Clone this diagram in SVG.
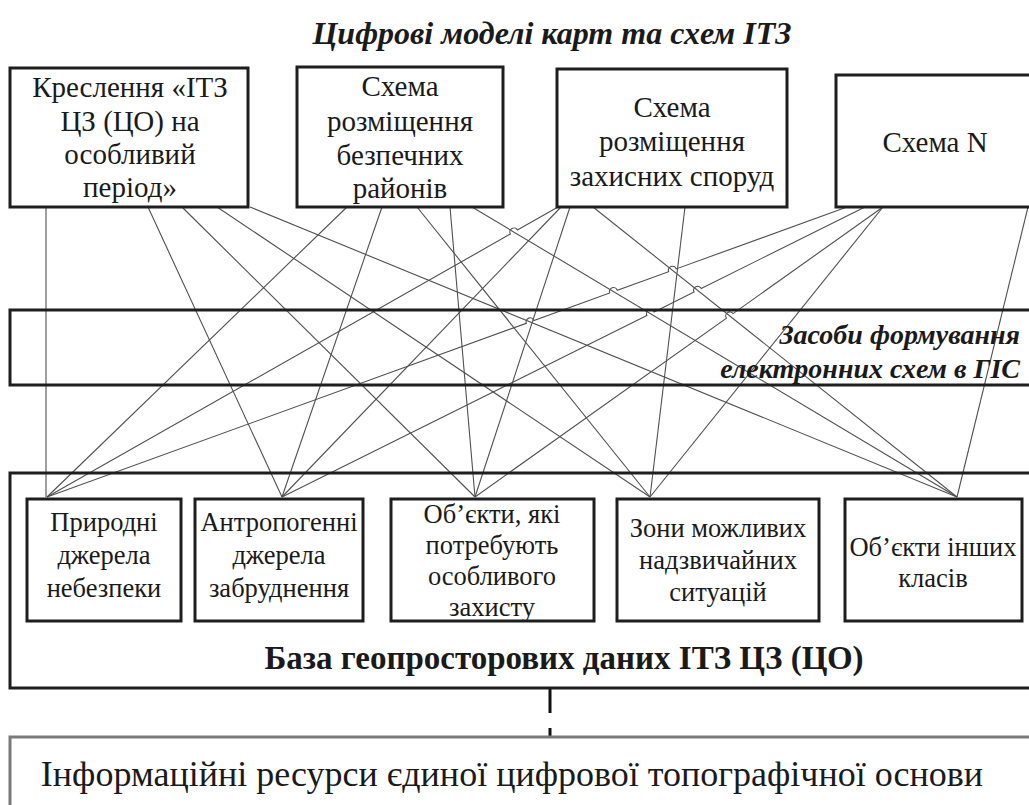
<svg xmlns="http://www.w3.org/2000/svg" width="1029" height="805" viewBox="0 0 1029 805">
<style>
.box{fill:none;stroke:#1e1e1e;stroke-width:3}
.grey{fill:none;stroke:#7a7a7a;stroke-width:3}
.t{font-family:"Liberation Serif","Times New Roman","DejaVu Serif",serif;fill:#1a1a1a;text-anchor:middle}
.top{font-size:29px}
.bot{font-size:26.5px}
.bi{font-weight:bold;font-style:italic}
.ln{fill:none;stroke:#505050;stroke-width:1.1}
</style>
<rect width="1029" height="805" fill="#fff"/>
<text class="t bi" x="552" y="44" font-size="32">Цифрові моделі карт та схем ІТЗ</text>

<g id="connectors">
<path class="ln" d="M46,207 L46,497"/>
<path class="ln" d="M148,207 L282,497"/>
<path class="ln" d="M182,207 L475,497"/>
<path class="ln" d="M217,207 L650,497"/>
<path class="ln" d="M250,207 L957,497"/>
<path class="ln" d="M347,207 L47,497"/>
<path class="ln" d="M382,207 L282,497"/>
<path class="ln" d="M450,207 L475,497"/>
<path class="ln" d="M417,207 L650,497"/>
<path class="ln" d="M472,207 L957,497"/>
<path class="ln" d="M558,207 L517.4,230.0 A4,4 0 0 0 510.4,234.0 L47,497"/>
<path class="ln" d="M561,207 L282,497"/>
<path class="ln" d="M570,207 L475,497"/>
<path class="ln" d="M685,207 L650,497"/>
<path class="ln" d="M593,207 L957,497"/>
<path class="ln" d="M847,207 L676.2,268.9 A4,4 0 0 0 668.6,271.7 L617.3,290.2 A4,4 0 0 0 609.7,293.0 L533.9,320.5 A4,4 0 0 0 526.3,323.3 L47,497"/>
<path class="ln" d="M865,207 L701.2,288.5 A4,4 0 0 0 694.0,292.1 L654.1,311.9 A4,4 0 0 0 646.9,315.5 L282,497"/>
<path class="ln" d="M883,207 L733.1,313.6 A4,4 0 0 0 726.5,318.2 L475,497"/>
<path class="ln" d="M883,207 L650,497"/>
<path class="ln" d="M1028,207 L957,497"/>
<path d="M550,688 L550,737" fill="none" stroke="#111" stroke-width="3" stroke-dasharray="25 15"/>
</g>

<g id="top1">
<rect class="box" x="10" y="68" width="238" height="139"/>
<text class="t top" x="130" y="97">Креслення «ІТЗ</text>
<text class="t top" x="130" y="131">ЦЗ (ЦО) на</text>
<text class="t top" x="130" y="164">особливий</text>
<text class="t top" x="130" y="197">період»</text>
</g>
<g id="top2">
<rect class="box" x="297" y="67" width="206" height="140"/>
<text class="t top" x="400" y="96">Схема</text>
<text class="t top" x="400" y="131">розміщення</text>
<text class="t top" x="400" y="165">безпечних</text>
<text class="t top" x="400" y="198">районів</text>
</g>
<g id="top3">
<rect class="box" x="557" y="69" width="230" height="138"/>
<text class="t top" x="672" y="117">Схема</text>
<text class="t top" x="672" y="151">розміщення</text>
<text class="t top" x="672" y="186">захисних споруд</text>
</g>
<g id="top4">
<rect class="box" x="836" y="75" width="210" height="132"/>
<text class="t top" x="935" y="152">Схема N</text>
</g>

<g id="tools">
<rect class="box" x="10" y="310" width="1030" height="75"/>
<text class="t bi" x="1020" y="344" font-size="28" style="text-anchor:end">Засоби формування</text>
<text class="t bi" x="1020" y="378" font-size="28" style="text-anchor:end">електронних схем в ГІС</text>
</g>

<g id="database">
<rect class="box" x="10" y="473" width="1030" height="215"/>
<text class="t" x="564" y="669" font-size="33" font-weight="bold">База геопросторових даних ІТЗ ЦЗ (ЦО)</text>
</g>
<g id="natural">
<rect class="box" x="27" y="499" width="154" height="122"/>
<text class="t bot" x="104" y="531">Природні</text>
<text class="t bot" x="104" y="564">джерела</text>
<text class="t bot" x="104" y="597">небезпеки</text>
</g>
<g id="anthropogenic">
<rect class="box" x="195" y="499" width="168" height="122"/>
<text class="t bot" x="279" y="531">Антропогенні</text>
<text class="t bot" x="279" y="564">джерела</text>
<text class="t bot" x="279" y="597">забруднення</text>
</g>
<g id="protected">
<text class="t bot" x="492" y="523">Об’єкти, які</text>
<text class="t bot" x="492" y="554">потребують</text>
<text class="t bot" x="492" y="585">особливого</text>
<text class="t bot" x="492" y="616">захисту</text>
<rect class="box" x="391" y="499" width="203" height="122"/>
</g>
<g id="emergency">
<rect class="box" x="617" y="499" width="202" height="122"/>
<text class="t bot" x="718" y="537">Зони можливих</text>
<text class="t bot" x="718" y="569">надзвичайних</text>
<text class="t bot" x="718" y="601">ситуацій</text>
</g>
<g id="other">
<rect class="box" x="845" y="499" width="177" height="122"/>
<text class="t bot" x="933" y="556">Об’єкти інших</text>
<text class="t bot" x="933" y="587">класів</text>
</g>

<g id="topo">
<rect class="grey" x="10" y="737" width="1030" height="90"/>
<text class="t" x="512" y="786" font-size="36">Інформаційні ресурси єдиної цифрової топографічної основи</text>
</g>
</svg>
